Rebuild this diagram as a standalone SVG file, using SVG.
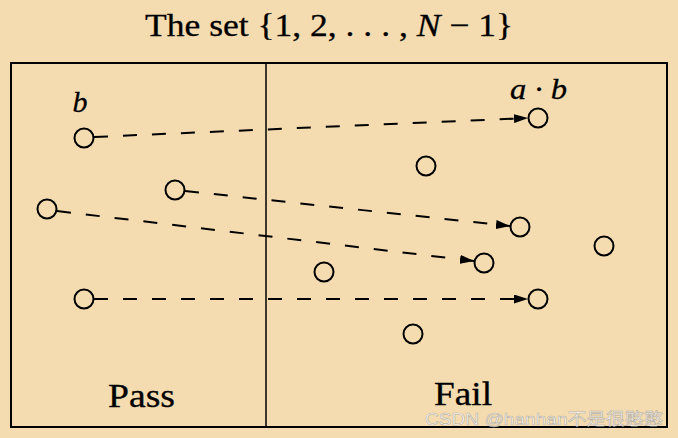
<svg xmlns="http://www.w3.org/2000/svg" width="678" height="438" viewBox="0 0 678 438">
<style>
.n{fill:none;stroke:#000;stroke-width:2}
.c{fill:none;stroke:#000;stroke-width:2;stroke-dasharray:14 15}
.t{font-family:"Liberation Serif","DejaVu Serif",serif;fill:#000;stroke:#000;stroke-width:0.3}
.m{font-family:"Liberation Serif","DejaVu Serif",serif;font-style:italic;fill:#000;stroke:#000;stroke-width:0.3}
</style>
<defs>
<marker id="ah" viewBox="0 0 14 9" refX="14" refY="4.5" markerWidth="14" markerHeight="9" markerUnits="userSpaceOnUse" orient="auto">
<path d="M0,0 L14,4.5 L0,9 Z" fill="#000"/>
</marker>
</defs>
<rect width="678" height="438" fill="#f4dcb0"/>
<text class="t" x="145" y="36" font-size="32" textLength="368" lengthAdjust="spacingAndGlyphs">The set {1, 2, . . . , <tspan font-style="italic">N</tspan> − 1}</text>
<g id="frame">
<rect x="11" y="63" width="656" height="364" fill="none" stroke="#000" stroke-width="2"/>
<line x1="266" y1="63" x2="266" y2="427" stroke="#000" stroke-width="1.5"/>
</g>
<g id="connectors">
<path class="c" d="M94,137 L528,118" marker-end="url(#ah)"/>
<path class="c" d="M185,191 L510,226" marker-end="url(#ah)"/>
<path class="c" d="M57,211 L474,261" marker-end="url(#ah)"/>
<path class="c" d="M94,299 L528,299" marker-end="url(#ah)"/>
</g>
<g id="n1"><circle class="n" cx="84" cy="138" r="9.5"/><text class="m" x="80" y="112" font-size="30" text-anchor="middle">b</text></g>
<g id="n2"><circle class="n" cx="538" cy="118" r="9.5"/><text class="m" x="510" y="99" font-size="30" textLength="57" lengthAdjust="spacingAndGlyphs">a · b</text></g>
<g id="n3"><circle class="n" cx="426" cy="166" r="9.5"/></g>
<g id="n4"><circle class="n" cx="175" cy="190" r="9.5"/></g>
<g id="n5"><circle class="n" cx="47" cy="209" r="9.5"/></g>
<g id="n6"><circle class="n" cx="520" cy="227" r="9.5"/></g>
<g id="n7"><circle class="n" cx="604" cy="246" r="9.5"/></g>
<g id="n8"><circle class="n" cx="484" cy="263" r="9.5"/></g>
<g id="n9"><circle class="n" cx="324" cy="272" r="9.5"/></g>
<g id="n10"><circle class="n" cx="84" cy="299" r="9.5"/></g>
<g id="n11"><circle class="n" cx="538" cy="299" r="9.5"/></g>
<g id="n12"><circle class="n" cx="413" cy="334" r="9.5"/></g>
<g id="labels">
<text class="t" x="108" y="407" font-size="33" textLength="67" lengthAdjust="spacingAndGlyphs">Pass</text>
<text class="t" x="434" y="405" font-size="33" textLength="58" lengthAdjust="spacingAndGlyphs">Fail</text>
<text x="425" y="425" font-size="17" textLength="238" lengthAdjust="spacingAndGlyphs" fill="#ffffff" fill-opacity="0.8" stroke="#888" stroke-opacity="0.6" stroke-width="0.6" font-family="'Liberation Sans','Noto Sans CJK SC',sans-serif">CSDN @hanhan不是很憨憨</text>
</g>
</svg>
